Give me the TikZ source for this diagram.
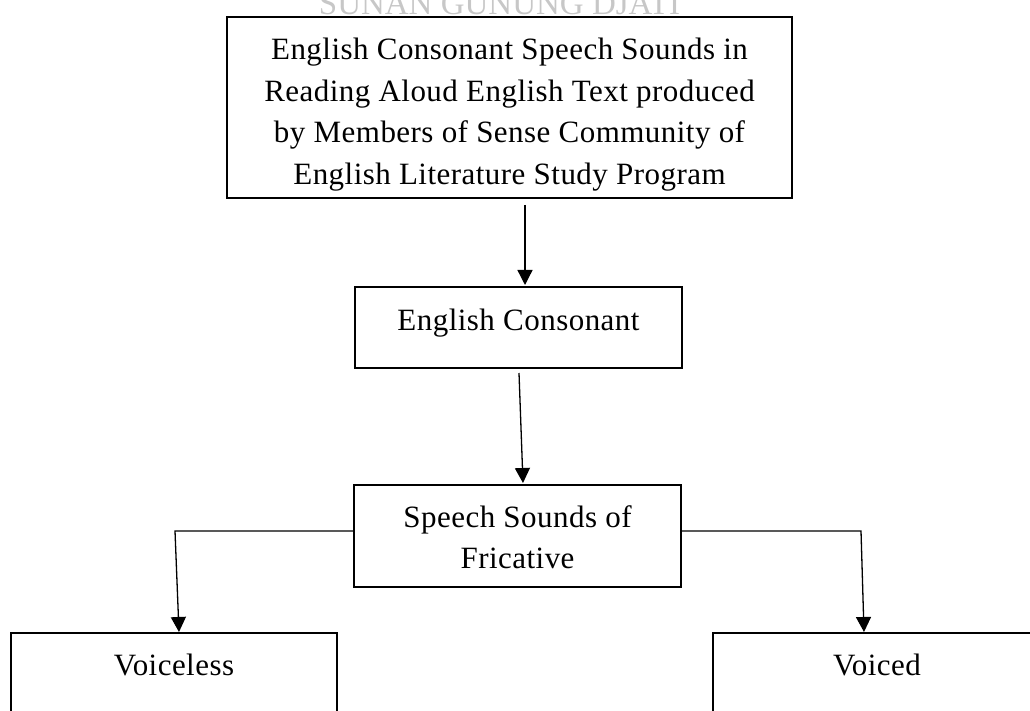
\documentclass[tikz,border=0pt]{standalone}
\usepackage{fontspec}
\setmainfont{Liberation Serif}
\newfontfamily\boxfont[LetterSpace=1.5]{Liberation Serif}
\usetikzlibrary{arrows.meta}
\tikzset{
  box/.style={draw=black, line width=1.8pt, rectangle, inner sep=0pt, outer sep=0pt, anchor=north west},
  txt/.style={inner sep=0pt, outer sep=0pt, anchor=base, font=\boxfont\fontsize{31}{41.5}\selectfont},
  arr/.style={draw=black, line width=1.3pt, -{Triangle[width=15pt,length=15pt]}},
  wm/.style={inner sep=0pt, anchor=base, text=black!22, font=\fontsize{33}{36}\selectfont}
}
\begin{document}
\begin{tikzpicture}[x=1pt, y=-1pt]
\useasboundingbox (0,0) rectangle (1030,711);
\clip (0,0) rectangle (1030,711);
% watermark
\node[wm] (wmark) at (499.5,15) {SUNAN GUNUNG DJATI};
% boxes
\node[box, minimum width=565pt, minimum height=181pt] (top) at (227,17) {};
\node[box, minimum width=327pt, minimum height=81pt] (ec) at (355,287) {};
\node[box, minimum width=327pt, minimum height=102pt] (sp) at (354,485) {};
\node[box, minimum width=326pt, minimum height=120pt] (vl) at (11,633) {};
\node[box, minimum width=326pt, minimum height=120pt] (vd) at (713,633) {};
% texts
\node[txt] (toptext) at (509.5,60) {\begin{tabular}[t]{@{}c@{}}English Consonant Speech Sounds in\\Reading Aloud English Text produced\\by Members of Sense Community of\\English Literature Study Program\end{tabular}};
\node[txt] (ectext) at (518.5,330) {English Consonant};
\node[txt] (sptext) at (517.5,527) {\begin{tabular}[t]{@{}c@{}}Speech Sounds of\\Fricative\end{tabular}};
\node[txt] (vltext) at (174,675) {Voiceless};
\node[txt] (vdtext) at (877,675) {Voiced};
% connectors
\coordinate (lc) at (175,531);
\coordinate (rc) at (861,531);
\draw[arr] ([xshift=15.5pt,yshift=-7pt]top.south) -- ([xshift=6.5pt,yshift=2pt]ec.north);
\draw[arr] ([xshift=0.5pt,yshift=-5pt]ec.south) -- ([xshift=5.5pt,yshift=2pt]sp.north);
\draw[arr] ([yshift=5pt]sp.west) -- (lc) -- ([xshift=5pt,yshift=1pt]vl.north);
\draw[arr] ([yshift=5pt]sp.east) -- (rc) -- ([xshift=-12pt,yshift=1pt]vd.north);
\end{tikzpicture}
\end{document}
